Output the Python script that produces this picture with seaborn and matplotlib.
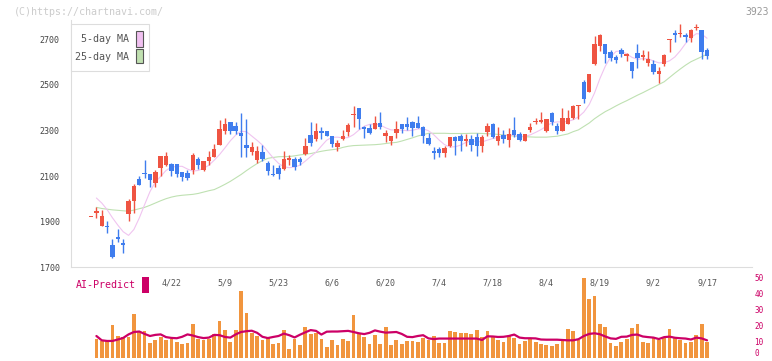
import numpy as np
import pandas as pd
import seaborn as sns
import matplotlib.pyplot as plt
import matplotlib.transforms as mtransforms
from matplotlib.patches import Rectangle

# daily candles (index 0..115)
opens = [1921, 1937, 1880, 1883, 1800, 1832, 1805, 1933, 1990, 2087,
         2112, 2109, 2068, 2134, 2151, 2154, 2154, 2119, 2113, 2128,
         2175, 2128, 2167, 2183, 2237, 2298, 2336, 2320, 2291, 2237,
         2207, 2172, 2207, 2157, 2109, 2135, 2131, 2170, 2176, 2176,
         2198, 2281, 2265, 2298, 2298, 2274, 2227, 2265, 2295, 2370,
         2397, 2314, 2310, 2307, 2332, 2278, 2256, 2291, 2329, 2329,
         2338, 2332, 2314, 2266, 2211, 2218, 2201, 2233, 2271, 2274,
         2252, 2263, 2271, 2230, 2295, 2329, 2252, 2281, 2259, 2303,
         2285, 2256, 2303, 2336, 2339, 2298, 2378, 2320, 2300, 2329,
         2354, 2409, 2512, 2467, 2591, 2671, 2678, 2645, 2623, 2652,
         2627, 2601, 2640, 2623, 2598, 2591, 2546, 2591, 2697, 2729,
         2722, 2717, 2706, 2751, 2739, 2652]
highs = [1921, 1965, 1953, 1905, 1822, 1869, 1822, 2000, 2067, 2099,
         2172, 2109, 2127, 2189, 2207, 2157, 2154, 2119, 2125, 2201,
         2183, 2167, 2209, 2242, 2346, 2354, 2336, 2336, 2375, 2349,
         2249, 2230, 2237, 2167, 2150, 2147, 2211, 2193, 2186, 2186,
         2266, 2336, 2332, 2317, 2298, 2274, 2259, 2303, 2332, 2407,
         2397, 2320, 2329, 2365, 2381, 2303, 2274, 2342, 2329, 2358,
         2340, 2364, 2320, 2288, 2227, 2227, 2233, 2271, 2276, 2284,
         2285, 2281, 2288, 2281, 2335, 2332, 2317, 2303, 2313, 2358,
         2295, 2285, 2332, 2354, 2380, 2351, 2383, 2335, 2397, 2390,
         2412, 2412, 2520, 2547, 2715, 2722, 2678, 2652, 2630, 2664,
         2640, 2601, 2678, 2655, 2648, 2608, 2579, 2637, 2703, 2739,
         2766, 2729, 2744, 2766, 2739, 2664]
lows = [1921, 1915, 1880, 1851, 1739, 1811, 1761, 1902, 1937, 2060,
        2092, 2051, 2052, 2102, 2145, 2099, 2095, 2077, 2081, 2109,
        2131, 2121, 2150, 2183, 2237, 2285, 2284, 2284, 2182, 2182,
        2193, 2157, 2167, 2106, 2102, 2086, 2125, 2150, 2125, 2150,
        2193, 2230, 2256, 2262, 2276, 2227, 2212, 2259, 2278, 2317,
        2307, 2266, 2284, 2307, 2306, 2249, 2237, 2266, 2291, 2303,
        2274, 2313, 2247, 2237, 2175, 2182, 2186, 2227, 2193, 2211,
        2230, 2211, 2189, 2204, 2274, 2266, 2237, 2244, 2226, 2271,
        2256, 2252, 2292, 2327, 2332, 2295, 2324, 2285, 2300, 2329,
        2351, 2351, 2420, 2467, 2586, 2649, 2597, 2605, 2597, 2623,
        2605, 2531, 2575, 2608, 2584, 2546, 2509, 2582, 2645, 2688,
        2710, 2688, 2688, 2739, 2616, 2616]
closes = [1921, 1945, 1927, 1876, 1745, 1824, 1798, 1993, 2058, 2060,
          2108, 2084, 2119, 2189, 2189, 2121, 2109, 2095, 2090, 2193,
          2151, 2167, 2185, 2220, 2307, 2329, 2300, 2300, 2278, 2225,
          2228, 2211, 2176, 2121, 2105, 2109, 2174, 2178, 2142, 2164,
          2233, 2247, 2298, 2291, 2276, 2241, 2244, 2276, 2324, 2372,
          2349, 2306, 2288, 2332, 2314, 2291, 2274, 2307, 2307, 2314,
          2313, 2313, 2278, 2241, 2201, 2201, 2223, 2271, 2255, 2256,
          2263, 2237, 2230, 2271, 2320, 2271, 2276, 2263, 2285, 2282,
          2259, 2285, 2317, 2343, 2346, 2351, 2339, 2300, 2357, 2357,
          2407, 2412, 2440, 2547, 2678, 2717, 2637, 2620, 2611, 2637,
          2637, 2562, 2619, 2630, 2616, 2557, 2560, 2630, 2700, 2717,
          2729, 2710, 2739, 2754, 2645, 2627]

# moving averages, index 1..115
ma5 = [2004, 1982, 1953, 1917, 1885, 1856, 1840, 1866, 1916, 1975,
       2032, 2074, 2099, 2125, 2139, 2143, 2143, 2131, 2122, 2125,
       2134, 2148, 2170, 2195, 2224, 2255, 2280, 2297, 2295, 2276,
       2257, 2236, 2208, 2180, 2156, 2141, 2137, 2140, 2148, 2166,
       2186, 2205, 2232, 2258, 2270, 2271, 2268, 2269, 2282, 2302,
       2319, 2327, 2329, 2324, 2312, 2303, 2302, 2302, 2299, 2301,
       2307, 2308, 2299, 2281, 2258, 2238, 2228, 2229, 2236, 2248,
       2255, 2252, 2250, 2258, 2265, 2270, 2277, 2282, 2279, 2274,
       2274, 2281, 2292, 2304, 2319, 2334, 2338, 2338, 2340, 2347,
       2360, 2381, 2414, 2465, 2528, 2582, 2622, 2647, 2649, 2636,
       2621, 2613, 2615, 2615, 2605, 2597, 2598, 2606, 2623, 2650,
       2682, 2708, 2725, 2723, 2705]
ma25 = [1963, 1958, 1955, 1952, 1950, 1948, 1946, 1951, 1957, 1963,
        1972, 1982, 1992, 2001, 2008, 2013, 2016, 2018, 2020, 2024,
        2030, 2036, 2041, 2052, 2064, 2077, 2092, 2107, 2124, 2140,
        2155, 2168, 2178, 2182, 2185, 2186, 2186, 2189, 2193, 2196,
        2199, 2204, 2209, 2213, 2216, 2219, 2226, 2231, 2234, 2235,
        2236, 2237, 2238, 2240, 2243, 2246, 2248, 2254, 2261, 2268,
        2276, 2282, 2288, 2288, 2288, 2288, 2287, 2287, 2287, 2287,
        2288, 2288, 2287, 2286, 2285, 2283, 2281, 2278, 2276, 2274,
        2273, 2272, 2271, 2271, 2271, 2273, 2275, 2280, 2285, 2295,
        2303, 2318, 2333, 2352, 2368, 2383, 2395, 2408, 2420, 2431,
        2443, 2455, 2466, 2478, 2490, 2502, 2514, 2533, 2552, 2570,
        2587, 2602, 2613, 2624, 2635]

# lower panel, index 1..115
volume = [11.5, 10.4, 10.4, 20.2, 13.3, 12.7, 13.1, 27.1, 16.7, 16.7,
          9.0, 10.8, 12.7, 10.8, 11.5, 9.6, 8.3, 9.0, 20.8, 11.5,
          10.8, 11.5, 14.6, 22.7, 17.1, 9.6, 17.1, 41.5, 27.7, 15.2,
          13.5, 11.0, 12.5, 8.3, 9.0, 17.1, 5.2, 11.9, 7.7, 19.0,
          14.6, 15.2, 11.5, 6.5, 10.8, 7.7, 11.5, 10.2, 26.5, 14.6,
          12.7, 8.3, 14.0, 8.3, 19.0, 7.7, 10.8, 8.3, 10.2, 10.2,
          9.6, 12.1, 10.8, 13.3, 9.0, 9.0, 16.5, 15.8, 15.2, 15.2,
          14.6, 17.1, 12.7, 16.5, 12.7, 10.8, 9.6, 13.3, 12.1, 8.3,
          10.2, 11.5, 9.6, 8.3, 7.7, 7.1, 8.3, 10.2, 17.7, 16.5,
          11.0, 49.6, 36.5, 38.3, 20.8, 19.0, 9.0, 7.1, 9.6, 11.5,
          18.3, 20.8, 9.6, 9.0, 12.1, 10.8, 12.1, 17.7, 12.1, 10.8,
          9.0, 9.6, 14.0, 20.8, 9.6]
ai_predict = [13.5, 10.8, 10.4, 10.4, 11.3, 12.3, 14.5, 16.0, 16.3, 14.8,
              13.5, 14.2, 14.5, 12.8, 12.3, 12.1, 13.0, 14.5, 13.8, 12.8,
              12.2, 12.5, 14.2, 14.0, 12.9, 12.5, 14.5, 16.0, 16.5, 16.8,
              15.5, 13.0, 12.2, 12.9, 13.5, 15.0, 14.0, 12.6, 14.3, 15.8,
              17.2, 16.7, 14.4, 16.2, 16.3, 16.3, 16.5, 16.7, 16.0, 15.2,
              14.7, 15.5, 17.0, 16.2, 15.6, 15.8, 16.0, 14.8, 13.0, 12.8,
              13.5, 14.0, 12.0, 11.6, 11.9, 11.9, 11.9, 11.9, 11.9, 11.9,
              11.9, 11.9, 11.0, 13.3, 13.2, 12.9, 13.0, 13.5, 14.4, 12.5,
              12.1, 12.1, 12.0, 11.3, 11.2, 11.2, 11.2, 11.0, 10.8, 10.8,
              11.5, 13.5, 14.8, 15.2, 14.6, 13.2, 12.0, 11.7, 13.0, 13.1,
              14.2, 14.4, 13.2, 12.8, 12.5, 11.6, 12.8, 13.1, 12.4, 12.1,
              11.9, 11.3, 12.5, 12.0, 10.8]

date_labels = ['4/22', '5/9', '5/23', '6/6', '6/20', '7/4', '7/18',
               '8/4', '8/19', '9/2', '9/17']
date_pos = [15, 25, 35, 45, 55, 65, 75, 85, 95, 105, 115]

RED = '#EF5442'
BLUE = '#3F7DEE'
ORANGE = '#F1953E'
MAG = '#CC0066'
GRID = '#dddddd'

sns.set_style("white")
plt.rcParams['font.family'] = ['DejaVu Sans Mono']

W, H = 772, 361
fig = plt.figure(figsize=(W / 100, H / 100), dpi=100)


def fbox(x0, y0, x1, y1):
    return [x0 / W, 1 - y1 / H, (x1 - x0) / W, (y1 - y0) / H]


ax = fig.add_axes(fbox(70.7, 20, 752.3, 267.3))
ax2 = fig.add_axes(fbox(70.7, 277.6, 752.3, 357.6))
xlim = (-3.8, 123.45)

# price panel
idx = np.arange(len(closes))
o = np.array(opens)
c = np.array(closes)
cols = np.where(c >= o, RED, BLUE)
df_ma = pd.DataFrame({'i': idx[1:], 'ma5': ma5, 'ma25': ma25})
sns.lineplot(data=df_ma, x='i', y='ma25', ax=ax, color='#BFE1B2', lw=0.8, zorder=1)
sns.lineplot(data=df_ma, x='i', y='ma5', ax=ax, color='#F0C4F0', lw=0.8, zorder=1)
ax.vlines(idx, lows, highs, colors=cols, linewidth=1.0, zorder=2)
ax.bar(idx, np.maximum(np.abs(c - o), 4), bottom=np.minimum(o, c), width=0.82,
       color=cols, linewidth=0, zorder=3)

ax.set_xlim(*xlim)
ax.set_ylim(1700, 2785)
ax.set_yticks(range(1700, 2701, 200))
ax.set_xticks(np.linspace(xlim[0], xlim[1], 12)[1:])
ax.set_xticklabels([])
ax.set_xlabel('')
ax.set_ylabel('')
ax.tick_params(axis='x', direction='inout', length=4, width=0.8, color=GRID)
ax.tick_params(axis='y', direction='inout', length=6, width=0.8, color=GRID,
               labelsize=6, labelcolor='#444444', pad=5)
for s in ['top', 'right']:
    ax.spines[s].set_visible(False)
for s in ['left', 'bottom']:
    ax.spines[s].set_color(GRID)
    ax.spines[s].set_linewidth(0.8)

# AI-Predict panel
df_v = pd.DataFrame({'i': idx[1:], 'vol': volume, 'ai': ai_predict})
sns.barplot(data=df_v, x='i', y='vol', native_scale=True, ax=ax2, color=ORANGE,
            saturation=1, width=0.7, errorbar=None, linewidth=0)
sns.lineplot(data=df_v, x='i', y='ai', ax=ax2, color=MAG, lw=1.6)
ax2.set_xlim(*xlim)
ax2.set_ylim(0, 50)
ax2.set_xticks([])
ax2.set_xlabel('')
ax2.set_ylabel('')
ax2.yaxis.tick_right()
ax2.set_yticks(range(0, 51, 10))
ax2.tick_params(axis='y', length=0, pad=1.5, labelsize=5.5, labelcolor=MAG)
ax2.get_yticklabels()[0].set_va('bottom')
for s in ax2.spines.values():
    s.set_visible(False)
ax2.patch.set_visible(False)

tr = mtransforms.blended_transform_factory(ax2.transData, fig.transFigure)
for p, lab in zip(date_pos, date_labels):
    ax2.text(p, 1 - 282.7 / H, lab, transform=tr, ha='center', va='center',
             fontsize=6, color='#555555', clip_on=False)

# legend box
fig.add_artist(Rectangle(fbox(70.7, 24, 148.7, 71.3)[:2], 78 / W, 47.3 / H,
                         transform=fig.transFigure, facecolor='white',
                         edgecolor=GRID, lw=0.8, zorder=5))
fig.text(129.3 / W, 1 - 39.3 / H, '5-day MA', ha='right', va='center',
         fontsize=7.2, color='#555555', zorder=6)
fig.text(129.3 / W, 1 - 56.7 / H, '25-day MA', ha='right', va='center',
         fontsize=7.2, color='#555555', zorder=6)
b = fbox(136.3, 31.3, 142.7, 46.7)
fig.add_artist(Rectangle(b[:2], b[2], b[3], transform=fig.transFigure,
                         facecolor='#F0C0F0', edgecolor='#555555', lw=0.8, zorder=6))
b = fbox(136.3, 48.7, 142.7, 63.3)
fig.add_artist(Rectangle(b[:2], b[2], b[3], transform=fig.transFigure,
                         facecolor='#C0E0B0', edgecolor='#555555', lw=0.8, zorder=6))

# AI-Predict label
fig.text(76 / W, 1 - 285 / H, 'AI-Predict', ha='left', va='center',
         fontsize=7.2, color=MAG)
b = fbox(142.3, 276.7, 148.7, 292.7)
fig.add_artist(Rectangle(b[:2], b[2], b[3], transform=fig.transFigure,
                         facecolor=MAG, edgecolor='none'))

fig.text(14 / W, 1 - 12 / H, '(C)https://chartnavi.com/', ha='left', va='center',
         fontsize=7.2, color='#cccccc')
fig.text(769 / W, 1 - 12 / H, '3923', ha='right', va='center',
         fontsize=7, color='#999999')

fig.savefig('out.png', dpi=100)
